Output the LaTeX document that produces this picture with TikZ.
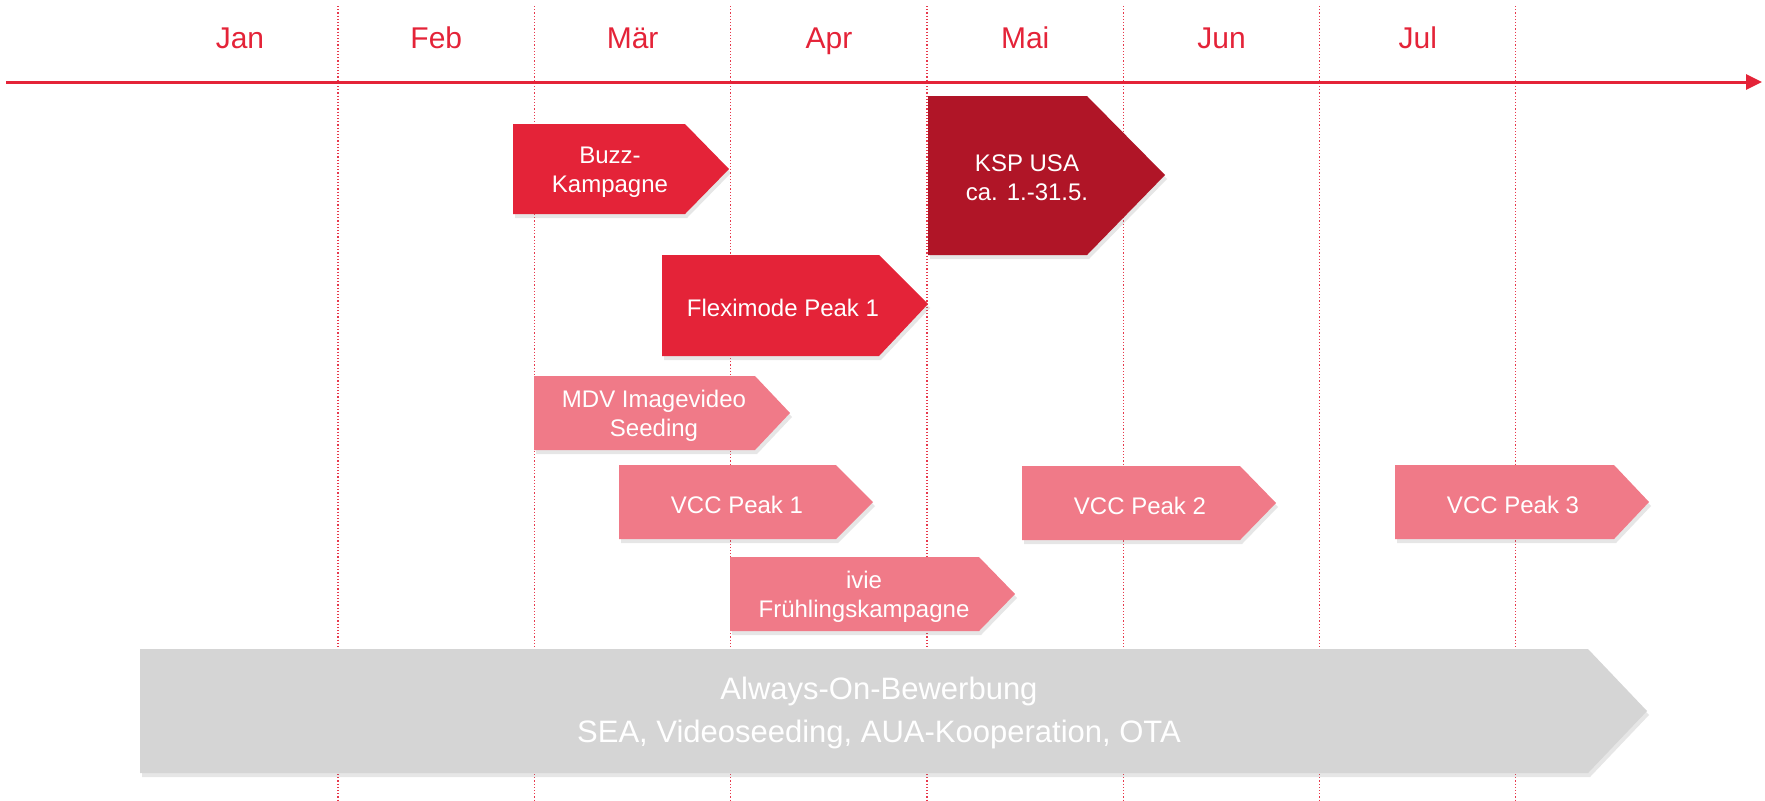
\documentclass[tikz,border=0pt]{standalone}
\usepackage{fontspec}
\setmainfont{Liberation Sans}
\usetikzlibrary{arrows.meta,shadows}
\definecolor{planred}{RGB}{228,35,56}
\definecolor{plandark}{RGB}{176,21,39}
\definecolor{planpink}{RGB}{240,122,136}
\definecolor{plangray}{RGB}{213,213,213}

\begin{document}
\begin{tikzpicture}[x=0.5pt,y=-0.5pt,
	monthline/.style={planred!90, line width=0.6pt, densely dotted},
	monthlabel/.style={text=planred, font=\fontsize{15}{18}\selectfont, anchor=base},
	boxshadow/.style={drop shadow={opacity=0.2, shadow xshift=1pt, shadow yshift=-2pt}},
	boxtext/.style={text=white, align=center, yshift=-1.5pt, font=\fontsize{12}{14.5}\selectfont},
	bartext/.style={text=white, align=center, font=\fontsize{15.5}{21.5}\selectfont}]
	
	\useasboundingbox (0,0) rectangle (1765,800);
	
	% Monatsgrenzen und Monate
	\foreach \k in {0,...,6}
		\draw[monthline] (338+196.3*\k,6)--(338+196.3*\k,800);
	\foreach \m [count=\k from 0] in {Jan,Feb,M\"ar,Apr,Mai,Jun,Jul}
		\node[monthlabel] (month\k) at (240+196.3*\k,48) {\m};
	
	% Zeitachse
	\coordinate (axisstart) at (6,82);
	\coordinate (axisend) at (1762,82);
	\draw[planred, line width=1.5pt, -{Triangle[length=8pt,width=7.5pt]}] (axisstart)--(axisend);
	
	% Kampagnen
	\fill[planred, boxshadow] (513,124)--(685,124)--(729,169)--(685,214)--(513,214)--cycle;
	\node[boxtext] (buzz) at (610,169) {Buzz-\\Kampagne};
	
	\fill[plandark, boxshadow] (928,96)--(1087,96)--(1165,175)--(1087,255)--(928,255)--cycle;
	\node[boxtext] (ksp) at (1027,175) {KSP USA\\ca. 1.-31.5.};
	
	\fill[planred, boxshadow] (662,255)--(879,255)--(928,304)--(879,356)--(662,356)--cycle;
	\node[boxtext] (flexi) at (783,305) {Fleximode Peak 1};
	
	\fill[planpink, boxshadow] (534,376)--(755,376)--(790,413)--(755,450)--(534,450)--cycle;
	\node[boxtext] (mdv) at (654,413) {MDV Imagevideo\\Seeding};
	
	\fill[planpink, boxshadow] (619,465)--(836,465)--(873,502)--(836,539)--(619,539)--cycle;
	\node[boxtext] (vcc1) at (737,502) {VCC Peak 1};
	
	\fill[planpink, boxshadow] (1022,466)--(1240,466)--(1276,503)--(1240,540)--(1022,540)--cycle;
	\node[boxtext] (vcc2) at (1140,503) {VCC Peak 2};
	
	\fill[planpink, boxshadow] (1395,465)--(1614,465)--(1649,502)--(1614,539)--(1395,539)--cycle;
	\node[boxtext] (vcc3) at (1513,502) {VCC Peak 3};
	
	\fill[planpink, boxshadow] (730,557)--(979,557)--(1015,594)--(979,631)--(730,631)--cycle;
	\node[boxtext] (ivie) at (864,594) {ivie\\Fr\"uhlingskampagne};
	
	% Dauerbewerbung
	\fill[plangray, boxshadow] (140,649)--(1588,649)--(1647,711)--(1588,773)--(140,773)--cycle;
	\node[bartext] (always) at (879,713) {Always-On-Bewerbung\\SEA, Videoseeding, AUA-Kooperation, OTA};
	
\end{tikzpicture}
\end{document}
